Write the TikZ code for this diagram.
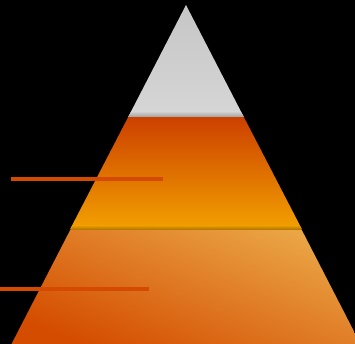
\documentclass[tikz,border=0pt]{standalone}
\usetikzlibrary{calc}
\definecolor{grayTop}{HTML}{C6C6C6}
\definecolor{grayBot}{HTML}{D6D6D6}
\definecolor{midTop}{HTML}{CC4000}
\definecolor{midBot}{HTML}{F2A000}
\definecolor{lowLight}{HTML}{EAA545}
\definecolor{lowDark}{HTML}{D44C00}
\definecolor{barCol}{HTML}{D44A00}
\tikzset{bar/.style={draw=barCol, line width=4pt}}
\begin{document}
\begin{tikzpicture}[x=1pt,y=-1pt]
\useasboundingbox (0,0) rectangle (355,343);
\fill[black] (-2,-2) rectangle (357,345);
\begin{scope}
\clip (-1,-1) rectangle (356,344);
% top band
\shade[top color=grayTop, bottom color=grayBot] (186,5) -- (243.8,117) -- (128.2,117) -- cycle;
\shade[top color=grayBot, bottom color=gray!75] (131.3,111) -- (240.7,111) -- (243.8,117) -- (128.2,117) -- cycle;
% middle band
\shade[top color=midTop, bottom color=midBot] (128.2,117) -- (243.8,117) -- (301.8,229) -- (70.2,229) -- cycle;
\shade[top color=midBot, bottom color=midBot!70!black] (73.3,225) -- (298.7,225) -- (301.8,230) -- (70.2,230) -- cycle;
% bottom band
\shade[top color=lowLight, bottom color=lowDark, shading angle=-22] (70.2,230) -- (301.8,230) -- (361,345) -- (11,345) -- cycle;
% bars
\draw[bar] (11,179) -- (163,179);
\draw[bar] (-1,289) -- (149,289);
\end{scope}
\end{tikzpicture}
\end{document}
